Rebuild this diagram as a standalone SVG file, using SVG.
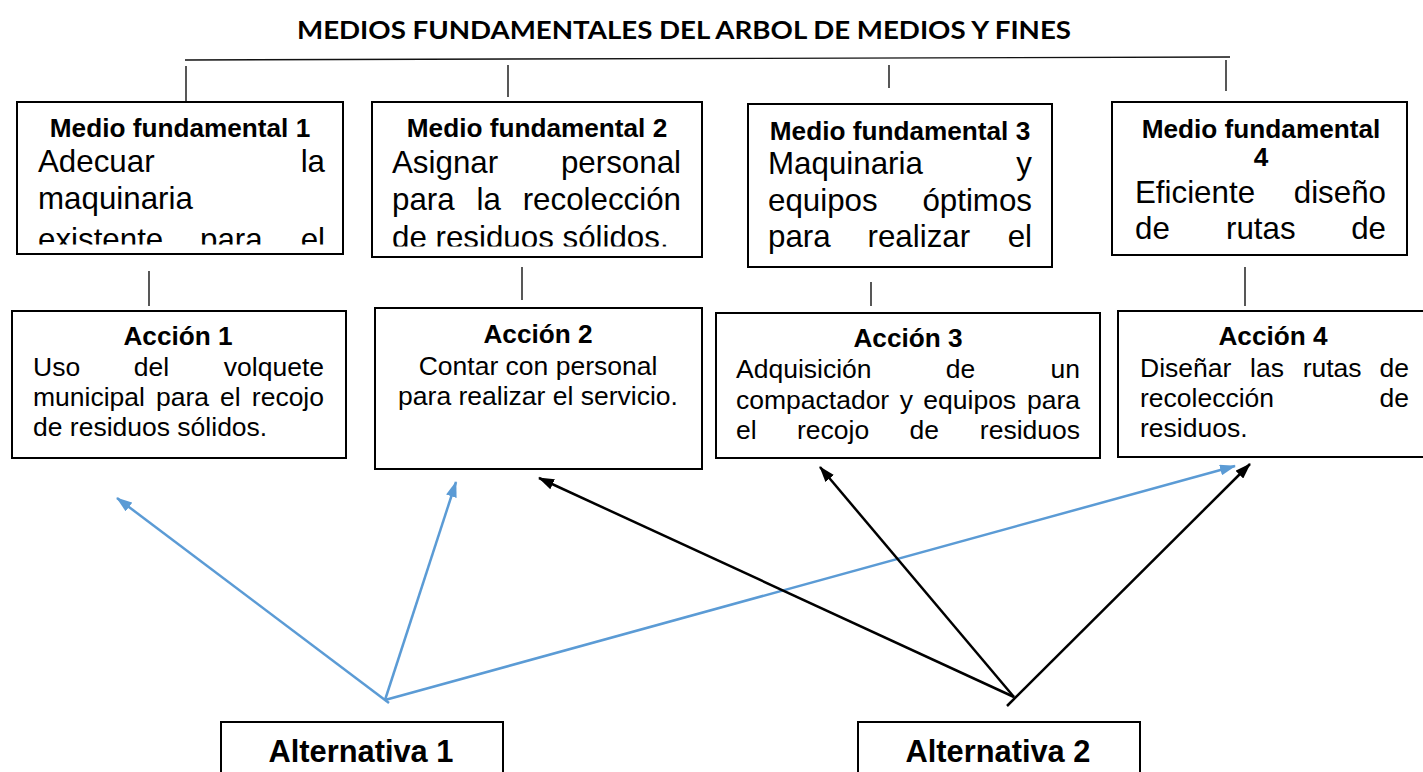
<svg xmlns="http://www.w3.org/2000/svg" width="1423" height="772" viewBox="0 0 1423 772">
<style>
.box{fill:#fff;stroke:#000;stroke-width:2}
.hd{font-family:"Liberation Sans",Arial,sans-serif;font-weight:bold;font-size:26.2px;fill:#000}
.mb{font-family:"Liberation Sans",Arial,sans-serif;font-size:31.3px;fill:#000}
.ab{font-family:"Liberation Sans",Arial,sans-serif;font-size:26.5px;fill:#000}
.alt{font-family:"Liberation Sans",Arial,sans-serif;font-weight:bold;font-size:30.8px;fill:#000}
.c{text-anchor:middle}
.e{text-anchor:end}
.tree{stroke:#111;stroke-width:1.4;fill:none}
.blue{stroke:#5B9BD5;stroke-width:2.5;fill:none;marker-end:url(#mb)}
.blk{stroke:#000;stroke-width:2.5;fill:none;marker-end:url(#mk)}
</style>
<defs>
<marker id="mb" viewBox="0 0 16 11" refX="15" refY="5.5" markerWidth="16" markerHeight="11" markerUnits="userSpaceOnUse" orient="auto"><path d="M0,0 L16,5.5 L0,11 z" fill="#5B9BD5"/></marker>
<marker id="mk" viewBox="0 0 16 11" refX="15" refY="5.5" markerWidth="16" markerHeight="11" markerUnits="userSpaceOnUse" orient="auto"><path d="M0,0 L16,5.5 L0,11 z" fill="#000"/></marker>
<clipPath id="c1"><rect x="17" y="102" width="326" height="142.5"/></clipPath>
<clipPath id="c2"><rect x="372" y="102" width="330" height="144.5"/></clipPath>
</defs>
<rect width="1423" height="772" fill="#fff"/>
<text x="684" y="39" class="c" font-family="Lato,'Liberation Sans',sans-serif" font-weight="bold" font-size="24.5" textLength="774" lengthAdjust="spacingAndGlyphs">MEDIOS FUNDAMENTALES DEL ARBOL DE MEDIOS Y FINES</text>

<g id="connectors">
<line class="tree" x1="185" y1="60" x2="1230" y2="57"/>
<line class="tree" x1="186" y1="66" x2="186" y2="101"/>
<line class="tree" x1="508" y1="65" x2="508" y2="97"/>
<line class="tree" x1="889" y1="65" x2="889" y2="88"/>
<line class="tree" x1="1226" y1="60" x2="1226" y2="91"/>
<line class="tree" x1="149" y1="271" x2="149" y2="306"/>
<line class="tree" x1="522" y1="267" x2="522" y2="300"/>
<line class="tree" x1="871" y1="282" x2="871" y2="306"/>
<line class="tree" x1="1245" y1="267" x2="1245" y2="306"/>
<line class="blue" x1="389" y1="703" x2="117" y2="498"/>
<line class="blue" x1="385" y1="700" x2="456" y2="482"/>
<line class="blue" x1="385" y1="700" x2="1235" y2="466"/>
<line class="blk" x1="1014" y1="697" x2="539" y2="478"/>
<line class="blk" x1="1014" y1="697" x2="820" y2="467"/>
<line class="blk" x1="1007" y1="706" x2="1250" y2="464"/>
</g>

<g id="mf1">
<rect class="box" x="17" y="102" width="326" height="152"/>
<text x="180" y="137" class="hd c">Medio fundamental 1</text>
<g clip-path="url(#c1)">
<text x="38" y="172" class="mb">Adecuar</text><text x="325" y="172" class="mb e">la</text>
<text x="38" y="209" class="mb">maquinaria</text>
<text x="38" y="250" class="mb">existente</text><text x="200" y="250" class="mb">para</text><text x="325" y="250" class="mb e">el</text>
</g>
</g>

<g id="mf2">
<rect class="box" x="372" y="102" width="330" height="155"/>
<text x="537" y="137" class="hd c">Medio fundamental 2</text>
<g clip-path="url(#c2)">
<text x="392" y="173" class="mb">Asignar</text><text x="681" y="173" class="mb e">personal</text>
<text x="392" y="210" class="mb">para</text><text x="476.5" y="210" class="mb">la</text><text x="681" y="210" class="mb e">recolección</text>
<text x="392" y="248" class="mb">de residuos sólidos.</text>
</g>
</g>

<g id="mf3">
<rect class="box" x="748" y="104" width="304" height="163"/>
<text x="900" y="140" class="hd c">Medio fundamental 3</text>
<text x="768" y="174" class="mb">Maquinaria</text><text x="1032" y="174" class="mb e">y</text>
<text x="768" y="211" class="mb">equipos</text><text x="1032" y="211" class="mb e">óptimos</text>
<text x="768" y="247" class="mb">para</text><text x="867.5" y="247" class="mb">realizar</text><text x="1032" y="247" class="mb e">el</text>
</g>

<g id="mf4">
<rect class="box" x="1112" y="102" width="295" height="153"/>
<text x="1261" y="138" class="hd c">Medio fundamental</text>
<text x="1261" y="166" class="hd c">4</text>
<text x="1135" y="203" class="mb">Eficiente</text><text x="1386" y="203" class="mb e">diseño</text>
<text x="1135" y="239" class="mb">de</text><text x="1226" y="239" class="mb">rutas</text><text x="1386" y="239" class="mb e">de</text>
</g>

<g id="a1">
<rect class="box" x="12" y="311" width="334" height="147"/>
<text x="178" y="345" class="hd c">Acción 1</text>
<text x="33" y="376" class="ab">Uso</text><text x="133.8" y="376" class="ab">del</text><text x="324" y="376" class="ab e">volquete</text>
<text x="33" y="406" class="ab">municipal</text><text x="156" y="406" class="ab">para</text><text x="220" y="406" class="ab">el</text><text x="324" y="406" class="ab e">recojo</text>
<text x="33" y="436" class="ab">de residuos sólidos.</text>
</g>

<g id="a2">
<rect class="box" x="375" y="308" width="327" height="161"/>
<text x="538" y="343" class="hd c">Acción 2</text>
<text x="538" y="375" class="ab c">Contar con personal</text>
<text x="538" y="405" class="ab c">para realizar el servicio.</text>
</g>

<g id="a3">
<rect class="box" x="716" y="313" width="384" height="145"/>
<text x="908" y="347" class="hd c">Acción 3</text>
<text x="736" y="378" class="ab">Adquisición</text><text x="945.8" y="378" class="ab">de</text><text x="1080" y="378" class="ab e">un</text>
<text x="736" y="409" class="ab">compactador</text><text x="899.7" y="409" class="ab">y</text><text x="923.3" y="409" class="ab">equipos</text><text x="1080" y="409" class="ab e">para</text>
<text x="736" y="439" class="ab">el</text><text x="797" y="439" class="ab">recojo</text><text x="909.6" y="439" class="ab">de</text><text x="1080" y="439" class="ab e">residuos</text>
</g>

<g id="a4">
<rect class="box" x="1118" y="311" width="320" height="146"/>
<text x="1273" y="345" class="hd c">Acción 4</text>
<text x="1140" y="377" class="ab">Diseñar</text><text x="1250" y="377" class="ab">las</text><text x="1302.7" y="377" class="ab">rutas</text><text x="1409" y="377" class="ab e">de</text>
<text x="1140" y="407" class="ab">recolección</text><text x="1409" y="407" class="ab e">de</text>
<text x="1140" y="437" class="ab">residuos.</text>
</g>

<g id="alt1">
<rect class="box" x="221" y="722" width="282" height="60"/>
<text x="361" y="762" class="alt c">Alternativa 1</text>
</g>

<g id="alt2">
<rect class="box" x="858" y="722" width="282" height="60"/>
<text x="998" y="762" class="alt c">Alternativa 2</text>
</g>
</svg>
